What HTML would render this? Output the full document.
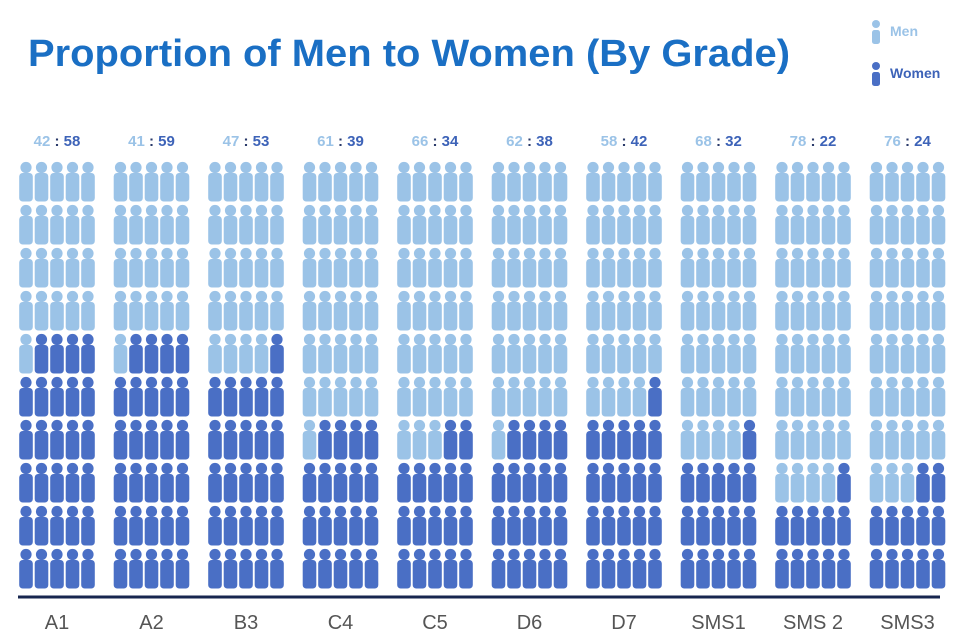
<!DOCTYPE html>
<html><head><meta charset="utf-8"><style>
html,body{margin:0;padding:0;background:#fff;}
svg{display:block;font-family:"Liberation Sans",Arial,sans-serif;}
</style></head><body>
<svg id="chart" width="960" height="640" viewBox="0 0 960 640">
<text x="28" y="66" font-size="38" font-weight="bold" fill="#1a6fc4" textLength="762" lengthAdjust="spacingAndGlyphs">Proportion of Men to Women (By Grade)</text>
<g>
<g>
<circle cx="876" cy="24" r="4" fill="#9bc3e7"/><rect x="872" y="30" width="8" height="14" rx="2.5" fill="#9bc3e7"/>
<text x="890" y="36" font-size="14" font-weight="bold" fill="#9bc3e7">Men</text></g>
<g>
<circle cx="876" cy="66" r="4" fill="#4a6fc5"/><rect x="872" y="72" width="8" height="14" rx="2.5" fill="#4a6fc5"/>
<text x="890" y="78" font-size="14" font-weight="bold" fill="#3d63b8">Women</text></g>
</g>
<g id="groups"></g>
<line x1="18" y1="597" x2="940" y2="597" stroke="#17264f" stroke-width="3"/>
</svg>
<script>
const categories = ["A1","A2","B3","C4","C5","D6","D7","SMS1","SMS 2","SMS3"];
const menPct = [42,41,47,61,66,62,58,68,78,76];
const womenPct = [58,59,53,39,34,38,42,32,22,24];

const NS="http://www.w3.org/2000/svg";
const g=document.getElementById('groups');
const cols=5, rows=10, perIcon=100/(cols*rows);
const x0=57, groupStep=94.5, iconStep=15.5, topY=162, rowStep=43;
const MEN="#9bc3e7", WOMEN="#4a6fc5";
function xc(i){return x0+i*groupStep;}
function mk(tag,attrs){const e=document.createElementNS(NS,tag);for(const k in attrs)e.setAttribute(k,attrs[k]);return e;}
categories.forEach((cat,i)=>{
  const cx=xc(i);
  const grp=mk('g',{});
  
  
  const lbl=mk('text',{x:cx,y:146,'text-anchor':'middle','font-size':15,'font-weight':'bold'});
  
  
  const t1=mk('tspan',{fill:MEN});t1.textContent=menPct[i];
  const t2=mk('tspan',{fill:"#2a3a6a"});t2.textContent=" : ";
  const t3=mk('tspan',{fill:"#3d63b8"});t3.textContent=womenPct[i];
  lbl.appendChild(t1);lbl.appendChild(t2);lbl.appendChild(t3);
  grp.appendChild(lbl);
  const nW=Math.ceil(womenPct[i]/perIcon-0.5);
  for(let r=0;r<rows;r++){
    for(let c=0;c<cols;c++){
      const fromBottom=(rows-1-r)*cols+(cols-1-c);
      const isW=fromBottom<nW;
      const fill=isW?WOMEN:MEN;
      const ix=cx+(c-2)*iconStep, iy=topY+r*rowStep;
      const icon=mk('g',{});
      
      
      icon.appendChild(mk('circle',{cx:ix,cy:iy+5.5,r:5.6,fill:fill}));
      icon.appendChild(mk('rect',{x:ix-6.8,y:iy+11,width:13.6,height:28.5,rx:3.5,fill:fill}));
      grp.appendChild(icon);
    }
  }
  const cl=mk('text',{x:cx,y:629,'text-anchor':'middle','font-size':20,fill:'#555'});
  
  
  cl.textContent=cat;
  grp.appendChild(cl);
  g.appendChild(grp);
});
</script>
</body></html>
